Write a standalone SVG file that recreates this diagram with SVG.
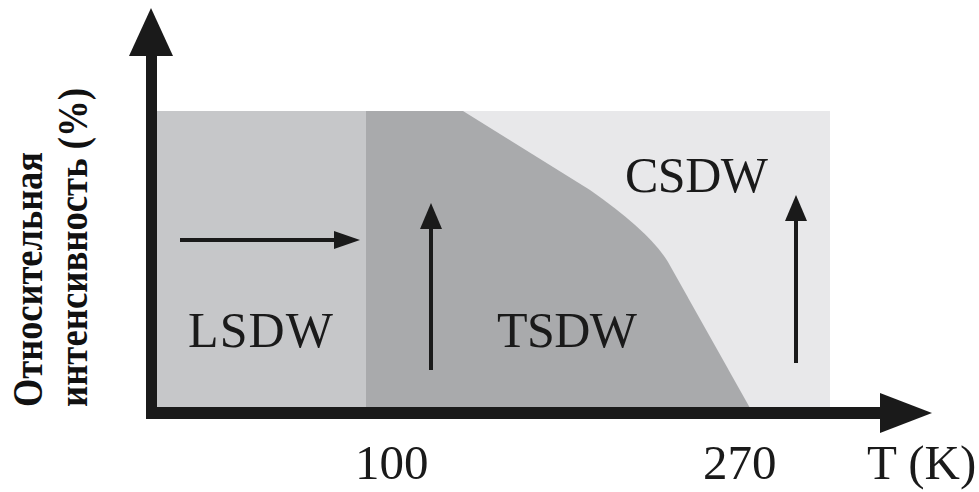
<svg xmlns="http://www.w3.org/2000/svg" width="979" height="492" viewBox="0 0 979 492">
<defs>
<style>
.lbl{font-family:"Liberation Serif","Times New Roman",serif;font-size:50px;fill:#1a1a1a}
.num{font-family:"Liberation Serif","Times New Roman",serif;font-size:49px;fill:#1a1a1a}
.ylab{font-family:"Liberation Serif","Times New Roman",serif;font-size:43px;font-weight:bold;fill:#111}
.arr{stroke:#1a1a1a;stroke-width:4;fill:none}
.head{fill:#1a1a1a}
</style>
</defs>
<rect width="979" height="492" fill="#ffffff"/>
<g id="regions">
<rect id="csdw-region" x="157" y="111" width="673" height="297" fill="#e8e8ea"/>
<rect id="lsdw-region" x="157" y="111" width="209" height="297" fill="#c6c7c9"/>
<path id="tsdw-region" d="M366,111 L463,111 L590,190 Q650,232 668,262 L750,408 L366,408 Z" fill="#a9aaac"/>
</g>
<g id="axes">
<rect x="146" y="50" width="11" height="369" fill="#1a1a1a"/>
<polygon points="151,8 129,56 173,56" fill="#1a1a1a"/>
<rect x="146" y="407" width="738" height="12" fill="#1a1a1a"/>
<polygon points="932,413 880,393 880,433" fill="#1a1a1a"/>
</g>
<g id="connectors">
<line class="arr" x1="180" y1="240" x2="340" y2="240"/>
<polygon class="head" points="360,240 334,231 334,249"/>
<line class="arr" x1="431" y1="370" x2="431" y2="222"/>
<polygon class="head" points="431,203 420,229 442,229"/>
<line class="arr" x1="796" y1="363" x2="796" y2="214"/>
<polygon class="head" points="796,195 785,221 807,221"/>
</g>
<g id="labels">
<text class="lbl" x="188" y="347" textLength="145">LSDW</text>
<text class="lbl" x="497" y="347" textLength="140">TSDW</text>
<text class="lbl" x="625" y="192" textLength="143">CSDW</text>
<text class="num" x="355" y="479">100</text>
<text class="num" x="703" y="479">270</text>
<text class="num" x="867" y="479">T (K)</text>
<text class="ylab" transform="translate(42,407) rotate(-90)" textLength="255" lengthAdjust="spacingAndGlyphs">Относительная</text>
<text class="ylab" transform="translate(87,407) rotate(-90)" textLength="319" lengthAdjust="spacingAndGlyphs">интенсивность (%)</text>
</g>
</svg>
